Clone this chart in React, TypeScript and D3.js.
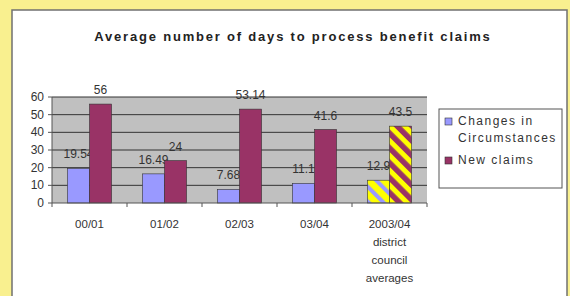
import React from "react";
import * as d3 from "d3";

const categories = ["00/01", "01/02", "02/03", "03/04", "2003/04 district council averages"];
const categoryLines = [["00/01"], ["01/02"], ["02/03"], ["03/04"], ["2003/04", "district", "council", "averages"]];
const series = ["Changes in Circumstances", "New claims"];
const legendLines = [["Changes in", "Circumstances"], ["New claims"]];
const changesValues = [19.54, 16.49, 7.68, 11.1, 12.9];
const newClaimsValues = [56, 24, 53.14, 41.6, 43.5];
const changesLabels = ["19.54", "16.49", "7.68", "11.1", "12.9"];
const newClaimsLabels = ["56", "24", "53.14", "41.6", "43.5"];
const yTicks = [0, 10, 20, 30, 40, 50, 60];

const colors = ["#9999ff", "#993366"];
const font = "'Liberation Sans', Arial, sans-serif";

export default function App() {
  const width = 570;
  const height = 296;

  const x = d3.scaleBand<string>().domain(categories).range([52, 427]).padding(0);
  const x1 = d3.scaleBand<string>().domain(series).range([0, x.bandwidth()]).paddingInner(0).paddingOuter(0.7);
  const y = d3.scaleLinear().domain([0, 60]).range([203, 97]);

  const values = [changesValues, newClaimsValues];
  const labels = [changesLabels, newClaimsLabels];
  const last = categories.length - 1;

  return (
    <svg width={width} height={height} style={{ position: "absolute", left: 0, top: 0 }}>
      <defs>
        <pattern id="hatch0" patternUnits="userSpaceOnUse" width="10.5" height="10.5" patternTransform="rotate(-45)">
          <rect width="10.5" height="10.5" fill="#ffff00" />
          <rect width="4" height="10.5" fill="#9999ff" />
        </pattern>
        <pattern id="hatch1" patternUnits="userSpaceOnUse" width="10.5" height="10.5" patternTransform="rotate(-45)">
          <rect width="10.5" height="10.5" fill="#ffff00" />
          <rect width="5.5" height="10.5" fill="#993366" />
        </pattern>
      </defs>

      {/* page background and panel */}
      <rect width={width} height={height} fill="#f9f08f" />
      <rect x={12} y={10} width={555} height={290} fill="#ffffff" stroke="#707070" strokeWidth={1.5} />

      <text x={293} y={41} textAnchor="middle" fontFamily={font} fontSize={13} fontWeight="bold"
        letterSpacing={1.8} fill="#222">
        Average number of days to process benefit claims
      </text>

      {/* plot area */}
      <rect x={52} y={y(60)} width={427 - 52} height={y(0) - y(60)} fill="#c0c0c0" />
      {yTicks.filter(t => t > 0).map(t => (
        <line key={t} x1={52} x2={427} y1={y(t)} y2={y(t)} stroke="#333" strokeWidth={1} />
      ))}

      {/* bars */}
      {categories.map((c, i) => (
        <g key={c}>
          {series.map((s, j) => {
            const bx = x(c)! + x1(s)!;
            const by = y(values[j][i]);
            return (
              <g key={s}>
                <rect x={bx} y={by} width={x1.bandwidth()} height={y(0) - by}
                  fill={i === last ? `url(#hatch${j})` : colors[j]} stroke="#333" strokeWidth={0.6} />
                <text x={bx + x1.bandwidth() / 2} y={by - 10} textAnchor="middle" fontFamily={font}
                  fontSize={12} fill="#333">
                  {labels[j][i]}
                </text>
              </g>
            );
          })}
        </g>
      ))}

      {/* axes */}
      <line x1={52} x2={52} y1={y(60)} y2={y(0)} stroke="#555" />
      <line x1={52} x2={427} y1={y(0)} y2={y(0)} stroke="#555" />
      {yTicks.map(t => (
        <g key={t}>
          <line x1={48} x2={52} y1={y(t)} y2={y(t)} stroke="#555" />
          <text x={44} y={y(t) + 4} textAnchor="end" fontFamily={font} fontSize={12} fill="#333">{t}</text>
        </g>
      ))}
      {categories.map(c => (
        <line key={c} x1={x(c)!} x2={x(c)!} y1={y(0)} y2={y(0) + 4} stroke="#555" />
      ))}
      <line x1={427} x2={427} y1={y(0)} y2={y(0) + 4} stroke="#555" />
      {categories.map((c, i) => (
        <text key={c} textAnchor="middle" fontFamily={font} fontSize={11.5} fill="#333">
          {categoryLines[i].map((ln, k) => (
            <tspan key={k} x={x(c)! + x.bandwidth() / 2} y={228 + k * 18}>{ln}</tspan>
          ))}
        </text>
      ))}

      {/* legend */}
      <rect x={439} y={109} width={123} height={79} fill="#fff" stroke="#555" strokeWidth={1} />
      {series.map((s, j) => {
        const top = j === 0 ? 118 : 157;
        return (
          <g key={s}>
            <rect x={445} y={top} width={7} height={7} fill={colors[j]} stroke="#333" strokeWidth={0.6} />
            {legendLines[j].map((ln, k) => (
              <text key={k} x={458} y={top + 7 + k * 17} fontFamily={font} fontSize={12} letterSpacing={1.5}
                fill="#333">{ln}</text>
            ))}
          </g>
        );
      })}
    </svg>
  );
}
